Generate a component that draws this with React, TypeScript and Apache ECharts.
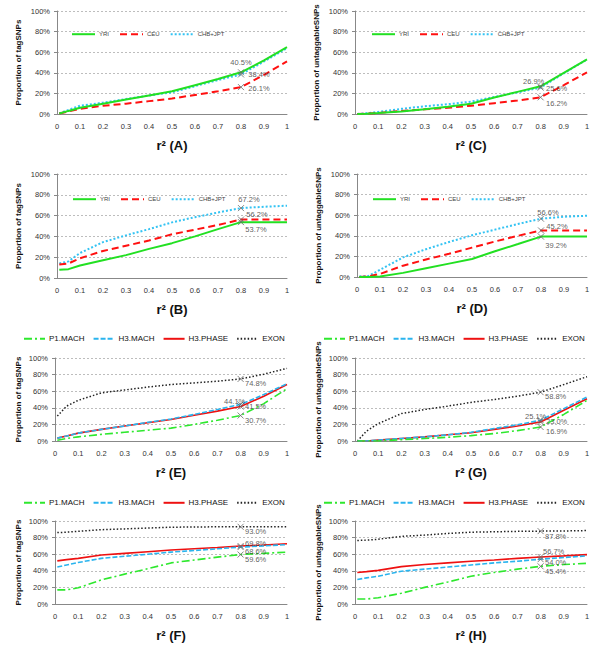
import React, { useEffect, useRef } from 'react';
import * as echarts from 'echarts';

// r² thresholds on the x axis
const X = [0.01, 0.05, 0.1, 0.2, 0.3, 0.4, 0.5, 0.6, 0.7, 0.8, 0.9, 1];
const MARK_INDEX = 9; // r² = 0.8

const POP_NAMES = ['YRI', 'CEU', 'CHB+JPT'];
const METHOD_NAMES = ['P1.MACH', 'H3.MACH', 'H3.PHASE', 'EXON'];

// (A) Proportion of tagSNPs
const A_YRI = [0.5, 3, 6, 10, 14, 18, 22, 28, 34, 40.5, 52, 65];
const A_CEU = [0.5, 2.5, 5, 8, 10, 12.5, 15, 18.5, 22, 26.1, 38, 51];
const A_CHB = [0.5, 4, 8, 11, 14.5, 18, 21, 27, 33, 38.4, 51, 64];
// (C) Proportion of untaggableSNPs
const C_YRI = [0, 0.3, 1, 2.5, 4.5, 7, 10, 16, 21.5, 26.9, 40, 53];
const C_CEU = [0, 0.3, 1, 3, 4.5, 6, 8, 10.5, 13, 16.2, 28, 40.5];
const C_CHB = [0, 0.8, 2, 5, 7.5, 9.5, 12, 16.5, 21, 25.6, 39.5, 53];
// (B)
const B_YRI = [8, 8.5, 12, 17, 22, 28, 33.5, 40, 47, 53.7, 53.7, 53.7];
const B_CEU = [13, 14, 19, 26, 31, 36, 42, 46.5, 51, 56.2, 56.2, 56.2];
const B_CHB = [14, 16, 24, 34.5, 41, 47, 53.5, 58.5, 63, 67.2, 68.5, 69.5];
// (D)
const D_YRI = [0, 0, 0.5, 4, 8.5, 13, 17.5, 25, 32, 39.2, 39.2, 39.2];
const D_CEU = [0, 0.5, 3, 11, 17, 22.5, 28.5, 34.5, 40, 45.2, 45.2, 45.2];
const D_CHB = [0.5, 1, 7, 19, 27, 34, 40.5, 46, 51.5, 56.6, 58.5, 59.5];
// (E)
const E_P1 = [1, 3, 5, 8, 10.5, 13, 15.5, 20, 25, 30.7, 45, 63];
const E_H3M = [3.5, 6, 9.5, 14, 18, 22.5, 26.5, 32, 38, 44.1, 56, 69];
const E_H3P = [3.5, 6, 9.5, 14, 18, 22, 26, 31, 36, 41.5, 54, 68];
const E_EXON = [30, 42, 49, 58, 61.5, 65, 68, 70, 72, 74.8, 80.5, 87.5];
// (G)
const G_P1 = [0, 0, 0, 1.5, 3, 4.5, 6.5, 9, 12.5, 16.9, 32, 49];
const G_H3M = [0, 0, 1, 3, 5, 7.5, 10.5, 15, 19.5, 25.1, 39, 53];
const G_H3P = [0, 0, 1, 3, 5, 7.5, 10, 14, 18, 23.0, 37, 51];
const G_EXON = [0, 12, 21, 33, 38, 42, 46.5, 50, 54, 58.8, 68, 77.5];
// (F)
const F_P1 = [17, 17, 19.5, 29, 36, 42.5, 49.5, 53, 56.5, 59.6, 61, 62.5];
const F_H3M = [44.5, 47, 50, 55, 57.5, 60, 62.5, 64.5, 66.5, 68.6, 70, 71.5];
const F_H3P = [52, 53.5, 55, 59, 61, 63, 65, 66.5, 68, 69.8, 71, 72.5];
const F_EXON = [86, 86.5, 87.5, 89.5, 90.5, 91.5, 92.5, 92.8, 93, 93.0, 93, 93];
// (H)
const H_P1 = [6, 6, 7.5, 13, 20, 26.5, 33.5, 38, 42, 45.4, 47.5, 49];
const H_H3M = [29.5, 31.5, 33.5, 39.5, 42, 44.5, 47, 49.5, 51.5, 54.0, 56, 58];
const H_H3P = [38, 39, 40.5, 45, 47.5, 49.5, 51.5, 53, 55, 56.7, 58, 59.5];
const H_EXON = [76.5, 77, 78, 81.5, 83, 85, 86.5, 87, 87.5, 87.8, 88, 88.5];

const Y_TICKS = [0, 20, 40, 60, 80, 100];

const STYLES: Record<string, any> = {
  YRI: { color: '#22e022', type: 'solid', width: 2 },
  CEU: { color: '#ff1010', type: [7, 4], width: 2 },
  'CHB+JPT': { color: '#33c3f3', type: [2, 2], width: 2 },
  'P1.MACH': { color: '#2ee82e', type: [8, 3, 2, 3], width: 1.6 },
  'H3.MACH': { color: '#2ab4ee', type: [5, 2], width: 1.6 },
  'H3.PHASE': { color: '#ee1111', type: 'solid', width: 1.6 },
  EXON: { color: '#222222', type: [1.5, 2], width: 1.5 },
};

const PANELS = [
  { letter: 'A', kind: 'pop', yTitle: 'Proportion of tagSNPs', grid: [57, 11, 230, 103], legend: [71, 31], values: [A_YRI, A_CEU, A_CHB], offsets: [[0, -10], [18, 1], [18, 0]] },
  { letter: 'C', kind: 'pop', yTitle: 'Proportion of untaggableSNPs', grid: [355, 11, 232, 103], legend: [371, 31], values: [C_YRI, C_CEU, C_CHB], offsets: [[-7, -5], [16, 6], [16, 1]] },
  { letter: 'B', kind: 'pop', yTitle: 'Proportion of tagSNPs', grid: [57, 174, 230, 104], legend: [72, 196], values: [B_YRI, B_CEU, B_CHB], offsets: [[15, 7], [16, -5], [8, -9]] },
  { letter: 'D', kind: 'pop', yTitle: 'Proportion of untaggableSNPs', grid: [357, 174, 230, 103], legend: [372, 196], values: [D_YRI, D_CEU, D_CHB], offsets: [[15, 9], [16, -4], [7, -6]] },
  { letter: 'E', kind: 'method', yTitle: 'Proportion of tagSNPs', grid: [55, 358, 232, 83], legend: [23, 334], values: [E_P1, E_H3M, E_H3P, E_EXON], offsets: [[15, 5], [-6, -3], [15, 0], [15, 5]] },
  { letter: 'G', kind: 'method', yTitle: 'Proportion of untaggableSNPs', grid: [355, 358, 232, 83], legend: [323, 334], values: [G_P1, G_H3M, G_H3P, G_EXON], offsets: [[16, 5], [-5, -4], [16, 0], [15, 4]] },
  { letter: 'F', kind: 'method', yTitle: 'Proportion of tagSNPs', grid: [55, 521, 232, 83], legend: [23, 498], values: [F_P1, F_H3M, F_H3P, F_EXON], offsets: [[15, 5], [15, 4], [15, -3], [15, 5]] },
  { letter: 'H', kind: 'method', yTitle: 'Proportion of untaggableSNPs', grid: [355, 521, 232, 83], legend: [323, 498], values: [H_P1, H_H3M, H_H3P, H_EXON], offsets: [[15, 5], [15, 3], [13, -5], [15, 5]] },
];

const FONT = "'Liberation Sans', Arial, sans-serif";

function buildOption() {
  const grid: any[] = [];
  const xAxis: any[] = [];
  const yAxis: any[] = [];
  const legend: any[] = [];
  const series: any[] = [];

  PANELS.forEach((p, i) => {
    const [left, top, width, height] = p.grid;
    grid.push({ left, top, width, height, containLabel: false });
    xAxis.push({
      gridIndex: i,
      type: 'value',
      min: 0,
      max: 1,
      interval: 0.1,
      name: 'r\u00B2 (' + p.letter + ')',
      nameLocation: 'middle',
      nameGap: 25,
      nameTextStyle: { fontFamily: FONT, fontWeight: 'bold', fontSize: 13, color: '#111' },
      axisLine: { show: true, lineStyle: { color: '#888', width: 1 } },
      axisTick: { show: false },
      splitLine: { show: false },
      axisLabel: {
        fontFamily: FONT,
        fontSize: 7.5,
        color: '#333',
        margin: 8,
        formatter: (v: number) => (v === 0 ? '0' : v === 1 ? '1' : v.toFixed(1)),
      },
    });
    yAxis.push({
      gridIndex: i,
      type: 'value',
      min: Y_TICKS[0],
      max: Y_TICKS[Y_TICKS.length - 1],
      interval: 20,
      name: p.yTitle,
      nameLocation: 'middle',
      nameRotate: 90,
      nameGap: p.kind === 'pop' ? 35 : 33,
      nameTextStyle: { fontFamily: FONT, fontWeight: 'bold', fontSize: 8, color: '#111' },
      axisLine: { show: true, lineStyle: { color: '#888', width: 1 } },
      axisTick: { show: true, length: 3, lineStyle: { color: '#888' } },
      splitLine: { show: true, lineStyle: { color: '#bdbdbd', type: [2, 2], width: 1 } },
      axisLabel: { fontFamily: FONT, fontSize: 7.5, color: '#333', margin: 7, formatter: '{value}%' },
    });

    const names = p.kind === 'pop' ? POP_NAMES : METHOD_NAMES;
    legend.push({
      left: p.legend[0],
      top: p.legend[1],
      orient: 'horizontal',
      data: names,
      itemWidth: p.kind === 'pop' ? 23 : 21,
      itemHeight: p.kind === 'pop' ? 8 : 12,
      itemGap: p.kind === 'pop' ? 10 : 8,
      padding: 0,
      selectedMode: false,
      itemStyle: { opacity: 0 },
      textStyle: {
        fontFamily: FONT,
        fontSize: p.kind === 'pop' ? 6 : 8,
        color: p.kind === 'pop' ? '#444' : '#111',
        padding: [0, 0, 0, -1],
      },
    });

    const markData: any[] = [];
    names.forEach((name, k) => {
      const vals = p.values[k];
      const st = STYLES[name];
      series.push({
        type: 'line',
        name,
        xAxisIndex: i,
        yAxisIndex: i,
        data: X.map((x, j) => [x, vals[j]]),
        symbol: 'none',
        showSymbol: false,
        smooth: false,
        color: st.color,
        lineStyle: { color: st.color, type: st.type, width: st.width },
        z: 2 + (names.length - k),
      });
      markData.push({
        value: [X[MARK_INDEX], vals[MARK_INDEX]],
        label: { offset: p.offsets[k] },
      });
    });
    series.push({
      type: 'scatter',
      name: 'mark-' + p.letter,
      xAxisIndex: i,
      yAxisIndex: i,
      symbol: 'path://M0,0L10,10M10,0L0,10',
      symbolSize: 6,
      itemStyle: { color: 'rgba(0,0,0,0)', borderColor: '#666', borderWidth: 1 },
      z: 10,
      data: markData,
      label: {
        show: true,
        position: 'inside',
        fontFamily: FONT,
        fontSize: 7.5,
        color: '#333',
        formatter: (prm: any) => prm.value[1].toFixed(1) + '%',
      },
      emphasis: { disabled: true },
    });
  });

  return { animation: false, backgroundColor: '#ffffff', grid, xAxis, yAxis, legend, series };
}

export default function App() {
  const ref = useRef<HTMLDivElement>(null);
  useEffect(() => {
    document.body.style.margin = '0';
    if (!ref.current) return;
    const chart = echarts.init(ref.current, undefined, { renderer: 'svg' });
    chart.setOption(buildOption());
    return () => chart.dispose();
  }, []);
  return <div ref={ref} style={{ width: 600, height: 654 }} />;
}
